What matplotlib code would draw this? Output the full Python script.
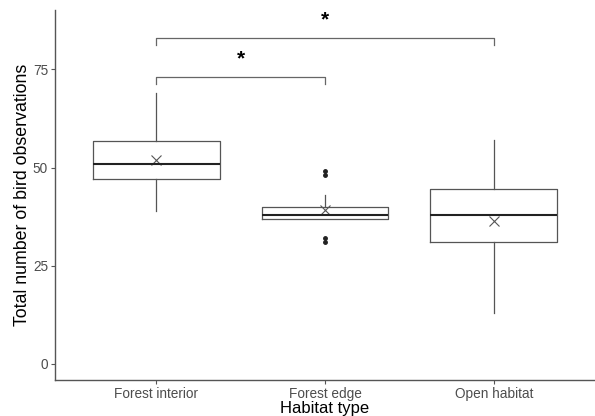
import matplotlib.pyplot as plt

plt.rcParams['font.family'] = ['Liberation Sans', 'DejaVu Sans']

habitats = ['Forest interior', 'Forest edge', 'Open habitat']
whisker_low = [39, 37, 13]
q1 = [47, 37, 31]
medians = [51, 38, 38]
q3 = [56.7, 40, 44.6]
whisker_high = [69, 43, 57]
means = [52, 39.2, 36.3]
outliers = [[], [31, 32, 48, 49], []]

# significance brackets: (first group, second group, height)
brackets = [(1, 2, 73), (1, 3, 83)]

stats = []
for i, name in enumerate(habitats):
    stats.append({
        'label': name,
        'whislo': whisker_low[i], 'q1': q1[i], 'med': medians[i],
        'q3': q3[i], 'whishi': whisker_high[i], 'fliers': outliers[i],
    })

fig = plt.figure(figsize=(5.95, 4.16), dpi=100)
ax = fig.add_axes([0.0924, 0.0865, 0.9076, 0.8895])

line_col = '#555555'
ax.bxp(stats, positions=[1, 2, 3], widths=0.75, showcaps=False,
       boxprops=dict(color=line_col, linewidth=0.9),
       whiskerprops=dict(color=line_col, linewidth=0.9),
       medianprops=dict(color='#222222', linewidth=1.5),
       flierprops=dict(marker='o', markersize=2.5, markerfacecolor='#222222',
                       markeredgecolor='#222222'))
ax.plot([1, 2, 3], means, linestyle='none', marker='x', markersize=6.5,
        color='#555555', markeredgewidth=0.8)

for a, b, h in brackets:
    ax.plot([a, a, b, b], [h - 1.7, h, h, h - 1.7], color='#666666', linewidth=0.9)
    ax.text((a + b) / 2, h + 4.6, '*', ha='center', va='center',
            fontsize=15, fontweight='bold', color='black')

ax.set_xlim(0.4, 3.6)
ax.set_ylim(-4.1, 90.1)
ax.set_yticks([0, 25, 50, 75])
ax.set_xticks([1, 2, 3])
ax.set_xticklabels(habitats)

for side in ['top', 'right']:
    ax.spines[side].set_visible(False)
for side in ['left', 'bottom']:
    ax.spines[side].set_color('#555555')
    ax.spines[side].set_linewidth(1.0)
ax.tick_params(colors='#555555', labelcolor='#4d4d4d', labelsize=9.8,
               length=3, width=0.8, pad=2)

ax.set_xlabel('Habitat type', fontsize=12, color='black', labelpad=0)
ax.set_ylabel('Total number of bird observations', fontsize=12.8,
              color='black', labelpad=1)

fig.savefig('out.png', dpi=100)
